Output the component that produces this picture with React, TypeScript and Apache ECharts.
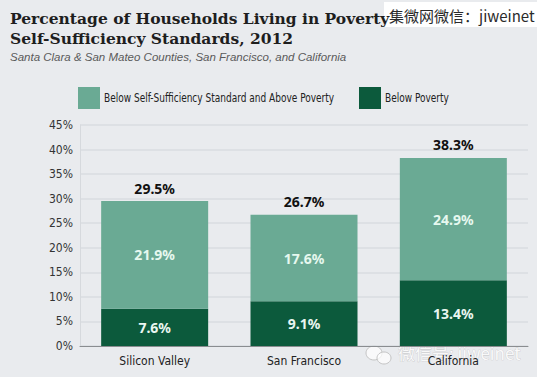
import React, { useEffect, useRef } from "react";
import * as echarts from "echarts";

const categories = ["Silicon Valley", "San Francisco", "California"];
const abovePoverty = [21.9, 17.6, 24.9];
const belowPoverty = [7.6, 9.1, 13.4];
const totals = [29.5, 26.7, 38.3];
const seriesNames = ["Below Self-Sufficiency Standard and Above Poverty", "Below Poverty"];

const LIGHT = "#6aaa94";
const DARK = "#0c5a3c";
const BG = "#e9ebee";
const NARROW = "'DejaVu Sans Condensed', 'Liberation Sans Narrow', sans-serif";

export default function App() {
  const ref = useRef<HTMLDivElement>(null);
  useEffect(() => {
    if (!ref.current) return;
    const chart = echarts.init(ref.current, null, { renderer: "svg" });
    chart.setOption({
      animation: false,
      backgroundColor: BG,
      title: [
        {
          text: "Percentage of Households Living in Poverty\nSelf-Sufficiency Standards, 2012",
          left: 10,
          top: 8,
          padding: 0,
          textStyle: {
            fontFamily: "'DejaVu Serif', serif",
            fontWeight: "bold",
            fontSize: 15.5,
            lineHeight: 20,
            color: "#1e1e1e",
          },
        },
        {
          text: "Santa Clara & San Mateo Counties, San Francisco, and California",
          left: 10,
          top: 51,
          padding: 0,
          textStyle: {
            fontFamily: "'Liberation Sans', sans-serif",
            fontStyle: "italic",
            fontWeight: "normal",
            fontSize: 11.5,
            color: "#5a5a5a",
          },
        },
      ],
      legend: [
        {
          data: [seriesNames[0]],
          left: 78,
          top: 87,
          padding: 0,
          itemWidth: 22,
          itemHeight: 22,
          icon: "rect",
          formatter: () => "",
        },
        {
          data: [seriesNames[1]],
          left: 359,
          top: 87,
          padding: 0,
          itemWidth: 22,
          itemHeight: 22,
          icon: "rect",
          formatter: () => "",
        },
      ],
      grid: { left: 80, right: 9, top: 125, bottom: 31 },
      xAxis: {
        type: "category",
        data: categories,
        axisTick: { show: false },
        axisLine: { lineStyle: { color: "#8a8d90", width: 1 } },
        axisLabel: { fontFamily: NARROW, fontSize: 12, color: "#222", margin: 9 },
      },
      yAxis: {
        type: "value",
        min: 0,
        max: 45,
        interval: 5,
        axisLine: { show: true, lineStyle: { color: "#d6d9dd" } },
        axisTick: { show: false },
        splitLine: { lineStyle: { color: "#d9dce0", width: 1.5 } },
        axisLabel: {
          formatter: "{value}%",
          fontFamily: NARROW,
          fontSize: 12,
          color: "#333",
          margin: 7,
        },
      },
      series: [
        {
          name: seriesNames[1],
          type: "bar",
          stack: "s",
          data: belowPoverty,
          barWidth: 107,
          itemStyle: { color: DARK },
          label: {
            show: true,
            position: "inside",
            formatter: "{c}%",
            fontFamily: "'Noto Sans', sans-serif",
            fontWeight: "bold",
            fontSize: 14,
            color: "#eaf6f0",
          },
        },
        {
          name: seriesNames[0],
          type: "bar",
          stack: "s",
          data: abovePoverty,
          barWidth: 107,
          itemStyle: { color: LIGHT },
          label: {
            show: true,
            position: "inside",
            formatter: "{c}%",
            fontFamily: "'Noto Sans', sans-serif",
            fontWeight: "bold",
            fontSize: 14,
            color: "#e6f8ef",
          },
        },
        {
          name: "total",
          type: "bar",
          stack: "s",
          data: totals.map(() => 0),
          barWidth: 107,
          itemStyle: { color: "transparent" },
          label: {
            show: true,
            position: "top",
            distance: 6,
            formatter: (p: any) => totals[p.dataIndex] + "%",
            fontFamily: "'Noto Sans', sans-serif",
            fontWeight: "bold",
            fontSize: 14,
            color: "#111",
          },
        },
      ],
      graphic: [
        {
          type: "text",
          x: 104,
          y: 98,
          scaleX: 0.77,
          style: {
            text: seriesNames[0],
            font: "13px 'DejaVu Sans Condensed', sans-serif",
            fill: "#222",
            textVerticalAlign: "middle",
          },
        },
        {
          type: "text",
          x: 385,
          y: 98,
          scaleX: 0.77,
          style: {
            text: seriesNames[1],
            font: "13px 'DejaVu Sans Condensed', sans-serif",
            fill: "#222",
            textVerticalAlign: "middle",
          },
        },
        {
          type: "rect",
          shape: { x: 384, y: 2, width: 153, height: 25 },
          style: { fill: "#ffffff" },
        },
        {
          type: "text",
          x: 389,
          y: 15,
          style: {
            text: "集微网微信：jiweinet",
            font: "15px 'Noto Sans CJK SC', sans-serif",
            fill: "#2a2a2a",
            textVerticalAlign: "middle",
          },
        },
        {
          type: "ellipse",
          shape: { cx: 374, cy: 353, rx: 8, ry: 7 },
          style: { fill: "rgba(255,255,255,0.7)", stroke: "rgba(190,190,190,0.9)" },
        },
        {
          type: "ellipse",
          shape: { cx: 384, cy: 358, rx: 7, ry: 6 },
          style: { fill: "rgba(255,255,255,0.7)", stroke: "rgba(190,190,190,0.9)" },
        },
        {
          type: "text",
          x: 398,
          y: 352,
          style: {
            text: "微信号: jiweinet",
            font: "17px 'Noto Sans CJK SC', sans-serif",
            fill: "rgba(255,255,255,0.85)",
            stroke: "rgba(170,170,170,0.6)",
            lineWidth: 0.6,
            textVerticalAlign: "middle",
          },
        },
      ],
    });
    return () => chart.dispose();
  }, []);
  return (
    <div
      ref={ref}
      style={{ position: "fixed", left: 0, top: 0, width: 537, height: 377 }}
    />
  );
}
